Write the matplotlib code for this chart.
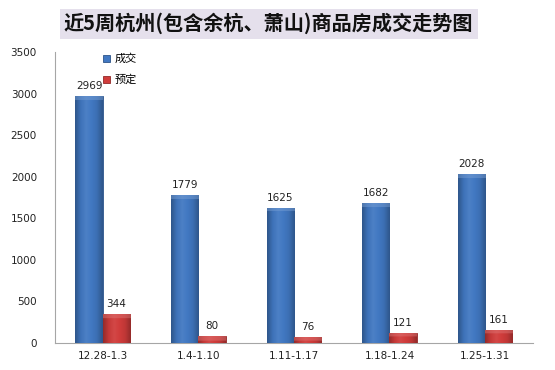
import numpy as np
import matplotlib
import matplotlib.pyplot as plt
from matplotlib.colors import LinearSegmentedColormap, to_rgb

matplotlib.use('Agg')
plt.rcParams['font.family'] = ['Noto Sans CJK SC', 'DejaVu Sans']

weeks = ['12.28-1.3', '1.4-1.10', '1.11-1.17', '1.18-1.24', '1.25-1.31']
deals = [2969, 1779, 1625, 1682, 2028]
booked = [344, 80, 76, 121, 161]
series_names = ['成交', '预定']

fig = plt.figure(figsize=(5.55, 3.70), dpi=100)
ax = fig.add_axes([0.099, 0.073, 0.861, 0.786])

x = np.arange(len(weeks))
w = 0.285
px_per_unit = 291 / 3500


def shade(c, f):
    r, g, b = to_rgb(c)
    if f < 1:
        return (r * f, g * f, b * f)
    f = f - 1
    return (r + (1 - r) * f, g + (1 - g) * f, b + (1 - b) * f)


def fancy_bars(xs, vals, base, label):
    bars = ax.bar(xs, vals, w, color=base, edgecolor=shade(base, 0.7),
                  linewidth=0.6, label=label, zorder=3)
    cols = [shade(base, 0.72), shade(base, 0.95), shade(base, 1.06),
            shade(base, 1.0), shade(base, 0.92), shade(base, 0.72)]
    cmap = LinearSegmentedColormap.from_list('g', cols)
    row = cmap(np.linspace(0, 1, 40))[:, :3]
    for b, v in zip(bars, vals):
        n = max(int(v * px_per_unit), 6)
        img = np.tile(row, (n, 1, 1))
        img[:4] = img[:4] * 0.55 + 0.45 * np.array(shade(base, 1.3))
        im = ax.imshow(img, extent=(b.get_x(), b.get_x() + w, 0, v),
                       aspect='auto', zorder=3.5, interpolation='bilinear')
        im.set_clip_path(b)
        ax.text(b.get_x() + w / 2, v + 60, str(v), ha='center', va='bottom',
                fontsize=7.5, color='#222222', family='DejaVu Sans')
    return bars


fancy_bars(x - w / 2, deals, '#4178c2', series_names[0])
fancy_bars(x + w / 2, booked, '#d03c3b', series_names[1])

ax.set_xlim(-0.5, len(weeks) - 0.5)
ax.set_ylim(0, 3500)
ax.set_yticks(range(0, 3501, 500))
ax.set_xticks(x)
ax.set_xticklabels(weeks)
ax.tick_params(length=0, labelsize=7.5, colors='#222222')
ax.tick_params(axis='y', pad=13)
ax.tick_params(axis='x', pad=6)
for lab in ax.get_xticklabels() + ax.get_yticklabels():
    lab.set_family('DejaVu Sans')
for s in ['top', 'right']:
    ax.spines[s].set_visible(False)
for s in ['left', 'bottom']:
    ax.spines[s].set_color('#a6a6a6')

ax.legend(loc='upper left', bbox_to_anchor=(0.08, 1.03), frameon=False,
          fontsize=8, handlelength=0.6, handleheight=0.6, handletextpad=0.45,
          labelspacing=0.95)

fig.text(0.484, 0.936, '近5周杭州(包含余杭、萧山)商品房成交走势图', ha='center',
         va='center', fontsize=14.5, fontweight='bold', color='#111111',
         bbox=dict(facecolor='#e5e0ec', edgecolor='none', pad=3))

fig.savefig('out.png', dpi=100)
